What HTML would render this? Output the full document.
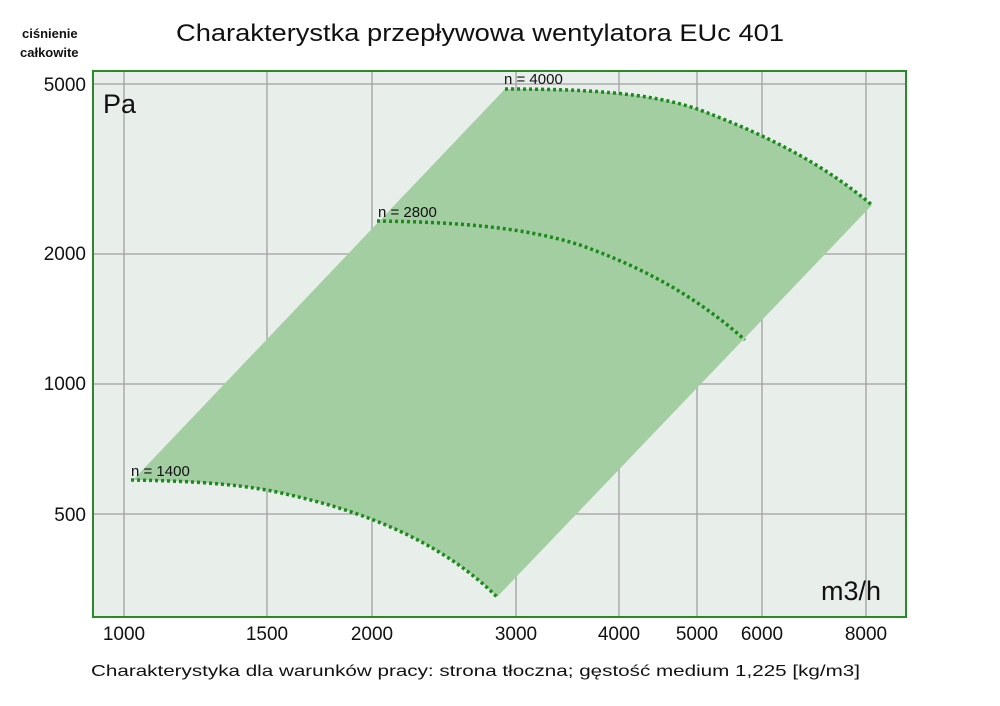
<!DOCTYPE html>
<html><head><meta charset="utf-8"><style>
html,body{margin:0;padding:0;background:#fff;}
svg{display:block;font-family:"Liberation Sans",sans-serif;}
</style></head><body>
<svg width="1000" height="706" viewBox="0 0 1000 706" xmlns="http://www.w3.org/2000/svg">
<rect x="0" y="0" width="1000" height="706" fill="#fff"/>
<rect x="93" y="71" width="813" height="546" fill="#e8eeea"/>
<g stroke="#a0a0a0" stroke-width="1.3">
<line x1="124" y1="71" x2="124" y2="617"/>
<line x1="267" y1="71" x2="267" y2="617"/>
<line x1="372" y1="71" x2="372" y2="617"/>
<line x1="516" y1="71" x2="516" y2="617"/>
<line x1="619" y1="71" x2="619" y2="617"/>
<line x1="697" y1="71" x2="697" y2="617"/>
<line x1="762" y1="71" x2="762" y2="617"/>
<line x1="866" y1="71" x2="866" y2="617"/>
<line x1="93" y1="84" x2="906" y2="84"/>
<line x1="93" y1="254" x2="906" y2="254"/>
<line x1="93" y1="384" x2="906" y2="384"/>
<line x1="93" y1="514" x2="906" y2="514"/>
</g>
<path d="M133,480 L505,89 C580,89 650,92 700,110 C780,140 830,170 872,205 L497,597 C450,550 380,515 290,495 C250,485 200,481 133,480 Z" fill="#a2cea2"/>
<g fill="none" stroke="#1a8a1a" stroke-width="3.5" stroke-dasharray="3,3">
<path d="M131,480 C200,481 250,485 290,495 C380,515 450,550 497,597"/>
<path d="M377,221 C450,222 520,226 580,245 C650,270 700,300 745,340"/>
<path d="M505,89 C580,89 650,92 700,110 C780,140 830,170 872,205"/>
</g>
<rect x="93" y="71" width="813" height="546" fill="none" stroke="#2a8a2a" stroke-width="2"/>
<g font-size="15" fill="#111">
<text x="131" y="476">n = 1400</text>
<text x="378" y="217">n = 2800</text>
<text x="504" y="84">n = 4000</text>
</g>
<text x="103" y="113" font-size="27" fill="#111">Pa</text>
<text x="821" y="600" font-size="27" fill="#111">m3/h</text>
<g font-size="19" fill="#111" text-anchor="end">
<text x="86" y="91">5000</text>
<text x="86" y="260">2000</text>
<text x="86" y="390">1000</text>
<text x="86" y="521">500</text>
</g>
<g font-size="19" fill="#111" text-anchor="middle">
<text x="124" y="640">1000</text>
<text x="267" y="640">1500</text>
<text x="372" y="640">2000</text>
<text x="516" y="640">3000</text>
<text x="619" y="640">4000</text>
<text x="697" y="640">5000</text>
<text x="762" y="640">6000</text>
<text x="866" y="640">8000</text>
</g>
<text x="22" y="38" font-size="13" font-weight="bold" fill="#111">ciśnienie</text>
<text x="20" y="57" font-size="13" font-weight="bold" fill="#111">całkowite</text>
<text x="176" y="41" font-size="24" fill="#111" textLength="608" lengthAdjust="spacingAndGlyphs">Charakterystka przepływowa wentylatora EUc 401</text>
<text x="91" y="676" font-size="16" fill="#111" textLength="769" lengthAdjust="spacingAndGlyphs">Charakterystyka dla warunków pracy: strona tłoczna; gęstość medium 1,225 [kg/m3]</text>
</svg>
</body></html>
